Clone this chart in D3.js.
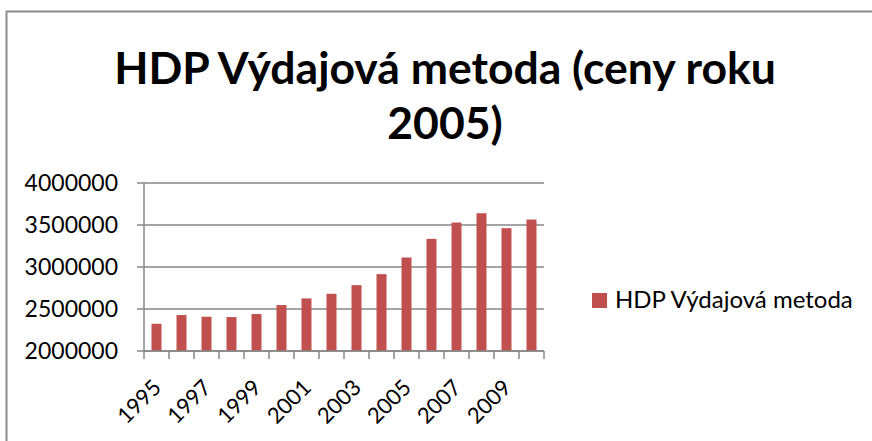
<!DOCTYPE html>
<html>
<head>
<meta charset="utf-8">
<script src="https://cdn.jsdelivr.net/npm/d3@7"></script>
<style>
  body { margin: 0; background: #fff; }
  svg { display: block; font-family: Lato, "Open Sans", sans-serif; }
</style>
</head>
<body>
<svg width="872" height="441"></svg>
<script>
// hodnoty
let years = [1995,1996,1997,1998,1999,2000,2001,2002,2003,2004,2005,2006,2007,2008,2009,2010],
    hdp = [2324000,2428000,2408000,2404000,2440000,2547000,2626000,2681000,2784000,2915000,
           3113000,3335000,3529000,3640000,3462000,3565000],
    yTicks = [2000000,2500000,3000000,3500000,4000000],
    xLabels = [1995,1997,1999,2001,2003,2005,2007,2009],
    titleLines = ["HDP Výdajová metoda (ceny roku", "2005)"],
    seriesName = "HDP Výdajová metoda";

let plotL = 144, plotR = 544, plotT = 183, plotB = 351,
    barColor = "#C0504D", lineColor = "#878787",
    svg = d3.select("svg");

// rámeček
svg.append("rect")
   .attr("x",6.5).attr("y",11.5)
   .attr("width",900).attr("height",500)
   .attr("fill","none")
   .attr("stroke","#8c8c8c")
   .attr("stroke-width",2);

svg.selectAll(".title")
   .data(titleLines)
   .enter()
   .append("text")
   .attr("class","title")
   .attr("x",445)
   .attr("y",(d,i)=>84 + i*55)
   .attr("text-anchor","middle")
   .attr("font-size","44.5px")
   .attr("font-weight","bold")
   .text(d=>d);

let xScale = d3.scaleBand().domain(years).range([plotL,plotR]).paddingInner(0.6).paddingOuter(0.3),
    yScale = d3.scaleLinear().domain([2000000,4000000]).range([plotB,plotT]);

// mřížka
svg.append("g")
   .selectAll("line")
   .data(yTicks)
   .enter()
   .append("line")
   .attr("x1",plotL-7).attr("x2",plotR)
   .attr("y1",d=>yScale(d)).attr("y2",d=>yScale(d))
   .attr("stroke",lineColor)
   .attr("stroke-width",1.5);

svg.append("g")
   .selectAll("text")
   .data(yTicks)
   .enter()
   .append("text")
   .attr("x",plotL-26)
   .attr("y",d=>yScale(d))
   .attr("dy","0.36em")
   .attr("text-anchor","end")
   .attr("font-size","23px")
   .attr("fill","#000")
   .text(d=>d);

svg.append("g")
   .selectAll("rect")
   .data(years)
   .enter()
   .append("rect")
   .attr("x",d=>xScale(d))
   .attr("y",(d,i)=>yScale(hdp[i]))
   .attr("width",xScale.bandwidth())
   .attr("height",(d,i)=>plotB - yScale(hdp[i]))
   .attr("fill",barColor);

// osy
svg.append("line")
   .attr("x1",plotL).attr("x2",plotL)
   .attr("y1",plotT).attr("y2",plotB)
   .attr("stroke",lineColor).attr("stroke-width",1.5);

let step = xScale.step(),
    xTickPos = years.map(d=>xScale(d) - xScale.paddingInner()*step/2).concat([plotR]);

svg.append("g")
   .selectAll("line")
   .data(xTickPos)
   .enter()
   .append("line")
   .attr("x1",d=>d).attr("x2",d=>d)
   .attr("y1",plotB).attr("y2",plotB+8)
   .attr("stroke",lineColor).attr("stroke-width",1.5);

svg.append("line")
   .attr("x1",plotL).attr("x2",plotR)
   .attr("y1",plotB).attr("y2",plotB)
   .attr("stroke",lineColor).attr("stroke-width",1.5);

svg.append("g")
   .selectAll("text")
   .data(xLabels)
   .enter()
   .append("text")
   .attr("transform",d=>`translate(${xScale(d)+xScale.bandwidth()/2+6},${plotB+38}) rotate(-45)`)
   .attr("text-anchor","end")
   .attr("font-size","22px")
   .text(d=>d);

// legenda
let legend = svg.append("g").attr("transform","translate(592,293)");
legend.append("rect")
      .attr("width",15).attr("height",15)
      .attr("fill",barColor);
legend.append("text")
      .attr("x",23).attr("y",14.5)
      .attr("font-size","24px")
      .text(seriesName);
</script>
</body>
</html>
